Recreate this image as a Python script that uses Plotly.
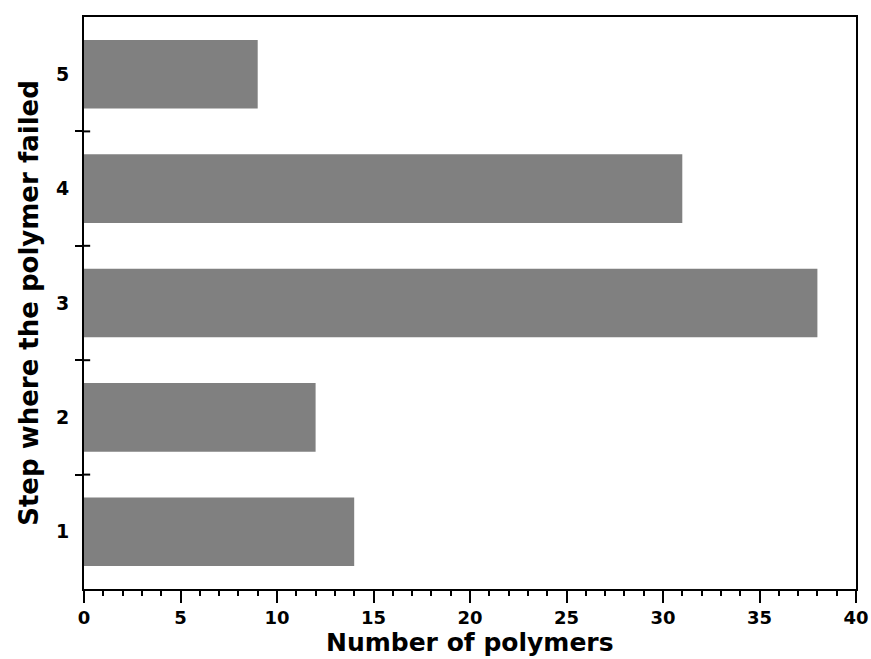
import plotly.graph_objects as go

# Failure step for each polymer and how many polymers failed there
steps = [1, 2, 3, 4, 5]
counts = [14, 12, 38, 31, 9]
x_ticks = [0, 5, 10, 15, 20, 25, 30, 35, 40]

FONT = "DejaVu Sans"
boundaries = [s + 0.5 for s in steps[:-1]]

fig = go.Figure(
    go.Bar(
        x=counts,
        y=steps,
        orientation="h",
        width=0.6,
        marker=dict(color="#808080", line=dict(width=0)),
    )
)

# inward half of the crossing ticks between steps
for b in boundaries:
    fig.add_shape(
        type="line", xref="x domain", yref="y",
        x0=0, x1=0.008, y0=b, y1=b,
        line=dict(color="black", width=2),
    )

# x-axis title drawn just under the tick labels
fig.add_annotation(
    text="Number of polymers",
    xref="paper", yref="paper", x=0.5, y=0,
    xanchor="center", yanchor="top", yshift=-38, borderpad=0,
    showarrow=False,
    font=dict(family=FONT, size=25, color="black", weight="bold"),
)

fig.update_layout(
    width=871,
    height=659,
    margin=dict(l=84, r=15, t=17, b=70),
    plot_bgcolor="white",
    paper_bgcolor="white",
    showlegend=False,
    xaxis=dict(
        range=[0, 40],
        tickvals=x_ticks,
        ticks="outside",
        ticklen=12,
        tickwidth=2,
        tickcolor="black",
        minor=dict(dtick=1, tick0=0, ticks="outside", ticklen=5,
                   tickwidth=2, tickcolor="black", showgrid=False),
        showline=True,
        linecolor="black",
        linewidth=2,
        mirror=True,
        showgrid=False,
        zeroline=False,
        automargin=False,
        ticklabelstandoff=-1,
        tickfont=dict(family=FONT, size=18, color="black", weight="bold"),
    ),
    yaxis=dict(
        range=[0.5, 5.5],
        tickvals=steps,
        ticks="",
        minor=dict(tickmode="array", tickvals=boundaries, ticks="outside",
                   ticklen=7, tickwidth=2, tickcolor="black", showgrid=False),
        showline=True,
        linecolor="black",
        linewidth=2,
        mirror=True,
        showgrid=False,
        zeroline=False,
        automargin=False,
        ticklabelstandoff=9,
        tickfont=dict(family=FONT, size=19, color="black", weight="bold"),
        title=dict(text="Step where the polymer failed", standoff=10,
                   font=dict(family=FONT, size=26, color="black", weight="bold")),
    ),
)

fig.write_html("out.html")
